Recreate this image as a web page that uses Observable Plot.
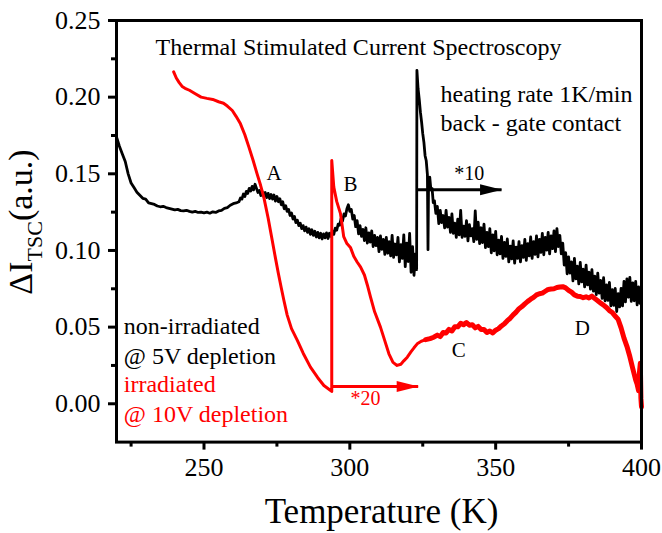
<!DOCTYPE html>
<html><head><meta charset="utf-8">
<script src="https://cdn.jsdelivr.net/npm/d3@7"></script>
<script src="https://cdn.jsdelivr.net/npm/@observablehq/plot@0.6"></script>
<style>html,body{margin:0;padding:0;background:#fff} svg{display:block} svg text{font-family:"Liberation Serif","Times New Roman",serif}</style>
</head><body><div id="chart"></div>
<script>
// non-irradiated @ 5V depletion  [T (K), ΔI_TSC (a.u.)]
const blackSeries = [
[220,0.174],[221,0.168],[222,0.163],[223,0.158],[224,0.150],[225,0.144],[226,0.141],[227,0.138],[228,0.136],[229,0.134],
[230,0.1335],[231,0.131],[232,0.1305],[233,0.130],[234,0.129],[235,0.1285],[236,0.1288],[237,0.128],[238,0.1275],[239,0.127],
[240,0.1265],[241,0.1268],[242,0.126],[243,0.1258],[244,0.1262],[245,0.1255],[246,0.125],[247,0.1255],[248,0.1248],[249,0.125],
[250,0.1245],[251,0.125],[252,0.1243],[253,0.1252],[254,0.1248],[255,0.1258],[256,0.1262],[257,0.1275],[258,0.128],[259,0.1295],
[260,0.1305],[261,0.131],
[262,0.1318],[262.5,0.1342],[263,0.1335],[263.5,0.1368],[264,0.1352],[264.5,0.1385],[265,0.1372],[265.5,0.1405],[266,0.1388],[266.5,0.1418],
[267,0.1395],[267.5,0.1432],[268,0.1405],[268.5,0.1378],[269,0.1392],[269.5,0.1358],[270,0.1382],[270.5,0.1352],[271,0.1378],[271.5,0.1345],
[272,0.1372],[272.5,0.1338],[273,0.1365],[273.5,0.1335],[274,0.1362],[274.5,0.1322],[275,0.1352],[275.5,0.1318],[276,0.1338],[276.5,0.1298],
[277,0.1318],[277.5,0.1272],[278,0.1292],[278.5,0.1255],[279,0.1268],[279.5,0.1228],[280,0.1245],[280.5,0.1205],[281,0.1222],[281.5,0.1182],
[282,0.1198],[282.5,0.1162],[283,0.1178],[283.5,0.1142],[284,0.1162],[284.5,0.1128],[285,0.1152],[285.5,0.1118],[286,0.1142],[286.5,0.1105],
[287,0.1135],[287.5,0.1098],[288,0.1125],[288.5,0.1088],[289,0.1118],[289.5,0.1082],[290,0.1112],[290.5,0.1075],[291,0.1108],[291.5,0.1082],
[292,0.1115],[292.5,0.1078],[293,0.1112],[293.5,0.1092],[294,0.1128],[294.5,0.1105],[295,0.1145],[295.5,0.1132],[296,0.1172],[296.5,0.1165],
[297,0.1208],[297.5,0.1192],[298,0.1238],[298.5,0.1225],[299,0.1272],[299.5,0.1298],
[300,0.1255],[300.5,0.1268],[301,0.1205],[301.5,0.1228],[302,0.1155],[302.5,0.1195],[303,0.1108],[303.5,0.1162],[304,0.1092],[304.5,0.1138],
[305,0.1065],[305.5,0.1148],[306,0.1048],[306.5,0.1115],[307,0.1055],[307.5,0.1128],[308,0.1025],[308.5,0.1098],[309,0.1032],[309.5,0.1085],
[310,0.0992],[310.5,0.1095],[311,0.1008],[311.5,0.1072],[312,0.0975],[312.5,0.1085],[313,0.0982],[313.5,0.1058],[314,0.0965],[314.5,0.1098],
[315,0.0955],[315.5,0.1042],[316,0.0972],[316.5,0.1085],[317,0.0925],[317.5,0.1038],[318,0.0948],[318.5,0.1102],[319,0.0895],[319.5,0.1048],
[320,0.0928],[320.5,0.1112],[321,0.0858],[321.5,0.1025],[322,0.0838],[322.5,0.0978],[322.9,0.0875],
[323.0,0.2175],[323.4,0.2055],[323.8,0.1985],[324.2,0.1902],[324.6,0.1838],[325,0.1762],[325.4,0.1705],[325.8,0.1618],[326.2,0.1585],[326.6,0.1495],
[326.8,0.1005],[327.0,0.1468],[327.4,0.1478],[327.8,0.1395],[328.2,0.1405],[328.6,0.1312],
[329,0.1325],[329.5,0.1242],[330,0.1288],[330.5,0.1175],[331,0.1262],[331.5,0.1182],[332,0.1228],[332.5,0.1148],[333,0.1262],[333.5,0.1152],
[334,0.1215],[334.5,0.1118],[335,0.1238],[335.5,0.1112],[336,0.1178],[336.5,0.1085],[337,0.1205],[337.5,0.1102],[338,0.1262],[338.5,0.1085],
[339,0.1158],[339.5,0.1092],[340,0.1195],[340.5,0.1062],[341,0.1168],[341.5,0.1095],[342,0.1142],[342.5,0.1058],[343,0.1258],[343.5,0.1072],
[344,0.1185],[344.5,0.1045],[345,0.1148],[345.5,0.1052],[346,0.1172],[346.5,0.1018],[347,0.1118],[347.5,0.1025],[348,0.1142],[348.5,0.0985],
[349,0.1102],[349.5,0.0998],[350,0.1125],[350.5,0.0972],[351,0.1068],[351.5,0.0978],[352,0.1092],[352.5,0.0948],[353,0.1052],[353.5,0.0962],
[354,0.1075],[354.5,0.0925],[355,0.1028],[355.5,0.0945],[356,0.1062],[356.5,0.0918],[357,0.1022],[357.5,0.0948],[358,0.1058],[358.5,0.0925],
[359,0.1032],[359.5,0.0955],[360,0.1072],[360.5,0.0935],[361,0.1045],[361.5,0.0965],[362,0.1088],[362.5,0.0948],[363,0.1058],[363.5,0.0975],
[364,0.1095],[364.5,0.0958],[365,0.1072],[365.5,0.0988],[366,0.1112],[366.5,0.0972],[367,0.1085],[367.5,0.1002],[368,0.1118],[368.5,0.0978],
[369,0.1095],[369.5,0.1012],[370,0.1128],[370.5,0.0992],[371,0.1142],[371.5,0.1025],[372,0.1098],[372.5,0.0978],[373,0.1048],[373.5,0.0905],
[374,0.0985],[374.5,0.0848],[375,0.0958],[375.5,0.0852],[376,0.0925],[376.5,0.0802],[377,0.0948],[377.5,0.0815],[378,0.0898],[378.5,0.0782],
[379,0.0922],[379.5,0.0795],[380,0.0878],[380.5,0.0762],[381,0.0905],[381.5,0.0775],[382,0.0858],[382.5,0.0748],[383,0.0875],[383.5,0.0735],
[384,0.0832],[384.5,0.0712],[385,0.0852],[385.5,0.0722],[386,0.0805],[386.5,0.0688],[387,0.0822],[387.5,0.0672],[388,0.0775],[388.5,0.0675],
[389,0.0792],[389.5,0.0638],[390,0.0745],[390.5,0.0642],[391,0.0752],[391.5,0.0602],[392,0.0718],[392.5,0.0632],[393,0.0752],[393.5,0.0638],
[394,0.0798],[394.5,0.0665],[395,0.0815],[395.5,0.0695],[396,0.0825],[396.5,0.0668],[397,0.0788],[397.5,0.0672],[398,0.0798],[398.5,0.0645],
[399,0.0762],[399.5,0.0655],[400,0.0735]
];

// irradiated @ 10V depletion  [T (K), ΔI_TSC (a.u.)]
const redSeries = [
[239.6,0.2165],[240.5,0.2125],[241.5,0.2095],[242.5,0.207],[243.5,0.2058],[245,0.2045],[247,0.2022],[249,0.2000],[251,0.1992],[253,0.1985],
[255,0.1970],[256.7,0.1960],[258,0.1942],[259.7,0.1913],[261,0.1875],[262.5,0.1826],[264,0.1755],[265.4,0.1674],[266.8,0.1590],[268.2,0.1500],
[269.4,0.1425],[270.5,0.1348],[272,0.1210],[273.4,0.1065],[274.5,0.0950],[275.5,0.0850],[276.5,0.0755],[277.4,0.0674],[278.5,0.0580],[280,0.0490],
[282,0.0413],[284,0.0330],[286.5,0.0239],[289,0.0170],[291.1,0.0119],[293.4,0.0087],[293.8,0.0080],
[293.8,0.1587],[294.5,0.1413],[295.5,0.1320],[296.8,0.1240],[297.9,0.1090],[299,0.1045],[300.2,0.1020],[301.4,0.0960],[302.5,0.0925],
[303.7,0.0891],[305,0.0840],[306,0.0775],[307.1,0.0695],[308.5,0.0600],[310.5,0.0500],[312,0.0410],[313.4,0.0326],[314.8,0.0270],[316.2,0.0250],
[317.5,0.0258],[318.5,0.0280],[319.7,0.0304],[321,0.0340],[322,0.0365],[323.1,0.0391],[324.5,0.0408],[326,0.0418],[327.5,0.0425],[328.8,0.0434],
[330,0.0448],[331,0.0438],[332,0.0465],[333,0.0462],[334,0.0485],[335,0.0475],[336,0.0502],[337,0.0502],[338,0.0525],[339,0.0515],
[340,0.0530],[341,0.0512],[342,0.0515],[343,0.0495],[344,0.0505],[345,0.0485],[346,0.0485],[347,0.0465],[348,0.0475],[349,0.0462],
[350,0.0480],[351,0.0490],[352,0.0508],[353,0.0522],[354,0.0542],[355,0.0558],[356,0.0580],[357,0.0598],[358,0.0620],[359,0.0634],
[360,0.0652],[361,0.0668],[362,0.0682],[363,0.0694],[364,0.0710],[365,0.0718],[366,0.0722],[367,0.0734],[368,0.0746],[369,0.0748],
[370,0.0750],[371,0.0758],[372,0.0762],[373,0.0764],[374,0.0756],[375,0.0740],[376,0.0728],[377,0.0710],[378,0.0702],[379,0.0700],
[380,0.0692],[381,0.0698],[382,0.0690],[383,0.0702],[384,0.0686],[385,0.0672],[386,0.0656],[387,0.0644],[388,0.0628],[389,0.0608],
[390,0.0595],[391,0.0572],[392,0.0550],[393,0.0495],[394,0.0428],[395,0.0375],[396,0.0308],[397,0.0230],[398,0.0155],[398.5,0.0128],
[399,0.0085],[399.3,0.0205],[399.6,0.0265],[399.8,0.0035],[400,-0.002]
];

const xMajor = [250, 300, 350, 400];
const xMinor = [225, 275, 325, 375];
const yMajor = [0, 0.05, 0.10, 0.15, 0.20, 0.25];
const yMinor = [0.025, 0.075, 0.125, 0.175, 0.225];

// scaling arrows: start T, end T, level
const blackArrow = [{x1: 322.9, x2: 352.2, y: 0.1396}];
const redArrow = [{x1: 293.9, x2: 323.6, y: 0.0113}];

// text annotations anchored at data coordinates
const notesLeft = [
  {x: 233.4, y: 0.2272, text: "Thermal Stimulated Current Spectroscopy", color: "black"},
  {x: 331.1, y: 0.1967, text: "heating rate 1K/min", color: "black"},
  {x: 331.1, y: 0.1778, text: "back - gate contact", color: "black"},
  {x: 222.5, y: 0.0457, text: "non-irradiated", color: "black"},
  {x: 222.5, y: 0.0261, text: "@ 5V depletion", color: "black"},
  {x: 222.5, y: 0.0076, text: "irradiated", color: "red"},
  {x: 222.5, y: -0.0120, text: "@ 10V depletion", color: "red"}
];
const peakLabels = [
  {x: 274.0, y: 0.1457, text: "A"},
  {x: 300.2, y: 0.1387, text: "B"},
  {x: 337.3, y: 0.0304, text: "C"},
  {x: 379.7, y: 0.0446, text: "D"}
];
const factorLabels = [
  {x: 340.9, y: 0.1457, text: "*10", color: "black"},
  {x: 305.4, y: -0.0011, text: "*20", color: "red"}
];

const toRows = s => s.map(([T, I]) => ({T, I}));
const redRows = toRows(redSeries);

const arrowHead = {
  draw(ctx, size) {
    const r = Math.sqrt(size / Math.PI);
    ctx.moveTo(0, 0);
    ctx.lineTo(-2 * r, -r / 2);
    ctx.lineTo(-2 * r, r / 2);
    ctx.closePath();
  }
};

const font = '"Liberation Serif", "Times New Roman", serif';

const plot = Plot.plot({
  width: 662,
  height: 533,
  marginLeft: 116,
  marginRight: 21,
  marginTop: 20,
  marginBottom: 91.4,
  style: {fontFamily: font, fontSize: "26px", color: "black", background: "white"},
  x: {domain: [220, 400]},
  y: {domain: [-0.025, 0.25]},
  marks: [
    Plot.line(toRows(blackSeries), {x: "T", y: "I", stroke: "black", strokeWidth: 2.8, strokeLinejoin: "round"}),
    Plot.line(redRows.filter(d => d.T <= 326), {x: "T", y: "I", stroke: "red", strokeWidth: 3, strokeLinejoin: "round"}),
    Plot.line(redRows.filter(d => d.T >= 326), {x: "T", y: "I", stroke: "red", strokeWidth: 5, strokeLinejoin: "round"}),
    Plot.ruleY(blackArrow, {x1: "x1", x2: "x2", y: "y", stroke: "black", strokeWidth: 3}),
    Plot.dot(blackArrow, {x: "x2", y: "y", r: 11, symbol: arrowHead, fill: "black", stroke: "none"}),
    Plot.ruleY(redArrow, {x1: "x1", x2: "x2", y: "y", stroke: "red", strokeWidth: 3}),
    Plot.dot(redArrow, {x: "x2", y: "y", r: 11, symbol: arrowHead, fill: "red", stroke: "none"}),
    Plot.text(notesLeft, {x: "x", y: "y", text: "text", fill: d => d.color, fontSize: 24, textAnchor: "start", lineAnchor: "bottom"}),
    Plot.text(peakLabels, {x: "x", y: "y", text: "text", fill: "black", fontSize: 21, textAnchor: "middle", lineAnchor: "bottom"}),
    Plot.text(factorLabels, {x: "x", y: "y", text: "text", fill: d => d.color, fontSize: 20, textAnchor: "middle", lineAnchor: "bottom"}),
    Plot.axisX({ticks: xMajor, tickSize: 8, tickPadding: 7, strokeWidth: 3, fontSize: 26, label: null, tickFormat: d => String(d)}),
    Plot.axisX({ticks: xMinor, tickSize: 5, strokeWidth: 3, label: null, tickFormat: () => ""}),
    Plot.axisY({ticks: yMajor, tickSize: 8, tickPadding: 8, strokeWidth: 3, fontSize: 26, label: null, tickFormat: d3.format(".2f")}),
    Plot.axisY({ticks: yMinor, tickSize: 5, strokeWidth: 3, label: null, tickFormat: () => ""}),
    Plot.frame({stroke: "black", strokeWidth: 3})
  ]
});

const svg = d3.select(plot);
// x-axis title
svg.append("text")
  .attr("x", 381.5).attr("y", 523)
  .attr("text-anchor", "middle")
  .attr("font-family", font).attr("font-size", 35).attr("fill", "black")
  .text("Temperature (K)");
// y-axis title with subscript
const yl = svg.append("text")
  .attr("transform", "translate(32,222) rotate(-90)")
  .attr("text-anchor", "middle")
  .attr("font-family", font).attr("font-size", 34).attr("fill", "black");
yl.append("tspan").text("ΔI");
yl.append("tspan").attr("font-size", 22).attr("dy", 10).text("TSC");
yl.append("tspan").attr("dy", -10).text("(a.u.)");

document.getElementById("chart").appendChild(plot);
</script>
</body></html>
